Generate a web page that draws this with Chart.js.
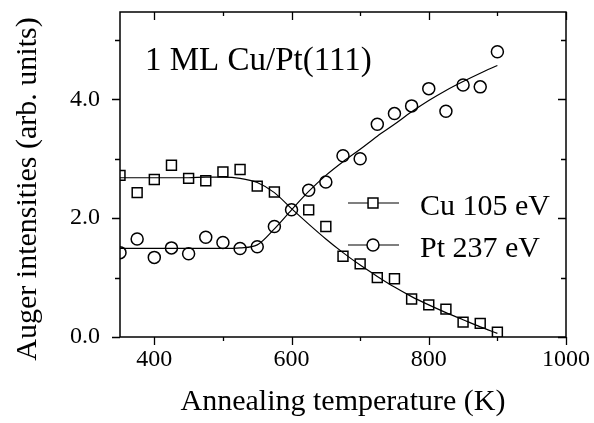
<!DOCTYPE html>
<html lang="en">
<head>
    <meta charset="UTF-8">
    <title>Auger intensities vs annealing temperature</title>
    <script src="https://cdn.jsdelivr.net/npm/chart.js"></script>
    <style>
        html, body { margin: 0; padding: 0; background: #fff; }
        #wrap { width: 594px; height: 423px; }
    </style>
</head>
<body>
    <div id="wrap"><canvas id="augerChart" width="594" height="423"></canvas></div>

    <script>
        // annealing temperatures (K)
        const temps = [350, 375, 400, 425, 450, 475, 500, 525, 550, 575, 600, 625, 650,
                       675, 700, 725, 750, 775, 800, 825, 850, 875, 900];
        const cuVals = [2.72, 2.43, 2.65, 2.89, 2.67, 2.63, 2.78, 2.82, 2.54, 2.44, null, 2.14, 1.86,
                        1.36, 1.23, 1.00, 0.98, 0.64, 0.54, 0.47, 0.25, 0.23, 0.08];
        const ptVals = [1.42, 1.65, 1.34, 1.50, 1.40, 1.68, 1.59, 1.49, 1.52, 1.86, 2.14, 2.47, 2.61,
                        3.05, 3.00, 3.58, 3.76, 3.89, 4.18, 3.80, 4.24, 4.21, 4.80];
        // fitted curves
        const cuFit = [2.68, 2.68, 2.68, 2.68, 2.68, 2.69, 2.69, 2.67, 2.60, 2.43, 2.16, 1.90, 1.65,
                       1.42, 1.21, 1.02, 0.84, 0.68, 0.54, 0.41, 0.29, 0.17, 0.06];
        const ptFit = [1.49, 1.49, 1.49, 1.49, 1.49, 1.49, 1.49, 1.50, 1.55, 1.82, 2.14, 2.45, 2.72,
                       2.95, 3.16, 3.38, 3.58, 3.79, 3.98, 4.15, 4.30, 4.44, 4.57];

        const xTicks = [400, 500, 600, 700, 800, 900, 1000];
        const xLabels = [400, 600, 800, 1000];
        const yTicks = [0, 1, 2, 3, 4, 5];
        const yLabels = [0, 2, 4];
        const seriesNames = ['Cu 105 eV', 'Pt 237 eV'];

        const SERIF = '"Liberation Serif", "DejaVu Serif", serif';

        const pts = vals => temps.map((t, i) => ({ x: t, y: vals[i] })).filter(p => p.y !== null);

        // frame, tick marks, titles and the inset legend
        const decor = {
            id: 'decor',
            afterDraw(chart) {
                const ctx = chart.ctx;
                const a = chart.chartArea;
                const xs = chart.scales.x, ys = chart.scales.y;
                ctx.save();
                ctx.strokeStyle = '#000';
                ctx.fillStyle = '#000';
                ctx.lineWidth = 1.5;
                ctx.strokeRect(a.left, a.top, a.right - a.left, a.bottom - a.top);

                ctx.lineWidth = 1.3;
                ctx.beginPath();
                xTicks.forEach(v => {
                    const px = Math.round(xs.getPixelForValue(v)) + 0.5;
                    const len = xLabels.includes(v) ? 8 : 4;
                    ctx.moveTo(px, a.bottom); ctx.lineTo(px, a.bottom + len);
                    ctx.moveTo(px, a.top); ctx.lineTo(px, a.top + len);
                });
                yTicks.forEach(v => {
                    const py = Math.round(ys.getPixelForValue(v)) + 0.5;
                    const len = yLabels.includes(v) ? 8 : 5;
                    ctx.moveTo(a.left, py); ctx.lineTo(a.left - len, py);
                    ctx.moveTo(a.right, py); ctx.lineTo(a.right - len, py);
                });
                ctx.stroke();

                // axis titles
                ctx.font = '30px ' + SERIF;
                ctx.textAlign = 'center';
                ctx.textBaseline = 'alphabetic';
                ctx.fillText('Annealing temperature (K)', (a.left + a.right) / 2, 410);
                ctx.save();
                ctx.translate(36, 189);
                ctx.rotate(-Math.PI / 2);
                ctx.fillText('Auger intensities (arb. units)', 0, 0);
                ctx.restore();

                // inset label
                ctx.textAlign = 'left';
                ctx.font = '33px ' + SERIF;
                ctx.fillText('1 ML Cu/Pt(111)', 145, 70);

                // legend
                const rows = [{ y: 203, style: 'rect', r: 7 }, { y: 245, style: 'circle', r: 6 }];
                ctx.font = '30px ' + SERIF;
                rows.forEach((row, i) => {
                    ctx.lineWidth = 1.2;
                    ctx.beginPath();
                    ctx.moveTo(348, row.y); ctx.lineTo(399, row.y);
                    ctx.stroke();
                    ctx.lineWidth = 1.5;
                    ctx.fillStyle = '#fff';
                    Chart.helpers.drawPoint(ctx, { pointStyle: row.style, radius: row.r, borderWidth: 1.5 }, 373, row.y);
                    ctx.fillStyle = '#000';
                    ctx.fillText(seriesNames[i], 420, row.y + 12);
                });
                ctx.restore();
            }
        };

        window.onload = function() {
            new Chart(document.getElementById('augerChart'), {
                type: 'scatter',
                data: {
                    datasets: [
                        {
                            label: 'Cu fit', data: pts(cuFit), showLine: true,
                            borderColor: '#000', borderWidth: 1.2, pointRadius: 0,
                            cubicInterpolationMode: 'monotone'
                        },
                        {
                            label: 'Pt fit', data: pts(ptFit), showLine: true,
                            borderColor: '#000', borderWidth: 1.2, pointRadius: 0,
                            cubicInterpolationMode: 'monotone'
                        },
                        {
                            label: seriesNames[0], data: pts(cuVals),
                            pointStyle: 'rect', pointRadius: 7, borderWidth: 1.5,
                            borderColor: '#000', backgroundColor: 'rgba(255,255,255,0)'
                        },
                        {
                            label: seriesNames[1], data: pts(ptVals),
                            pointStyle: 'circle', pointRadius: 6, borderWidth: 1.5,
                            borderColor: '#000', backgroundColor: 'rgba(255,255,255,0)'
                        }
                    ]
                },
                options: {
                    responsive: false,
                    animation: false,
                    layout: { padding: { top: 12, right: 28, left: 0, bottom: 0 } },
                    plugins: { legend: { display: false }, tooltip: { enabled: false } },
                    scales: {
                        x: {
                            type: 'linear', min: 350, max: 1000,
                            grid: { display: false, drawTicks: false },
                            border: { display: false },
                            afterBuildTicks: s => { s.ticks = xTicks.map(v => ({ value: v })); },
                            afterFit: s => { s.height = 86; s.paddingLeft = 0; s.paddingRight = 0; },
                            ticks: {
                                padding: 8, color: '#000', maxRotation: 0,
                                font: { family: SERIF, size: 24 },
                                callback: v => xLabels.includes(v) ? String(v) : ''
                            }
                        },
                        y: {
                            min: 0, max: 5.47,
                            grid: { display: false, drawTicks: false },
                            border: { display: false },
                            afterBuildTicks: s => { s.ticks = yTicks.map(v => ({ value: v })); },
                            afterFit: s => { s.width = 120; s.paddingTop = 0; s.paddingBottom = 0; },
                            ticks: {
                                padding: 20, color: '#000',
                                font: { family: SERIF, size: 24 },
                                callback: v => yLabels.includes(v) ? v.toFixed(1) : ''
                            }
                        }
                    }
                },
                plugins: [decor]
            });
        };
    </script>
</body>
</html>
